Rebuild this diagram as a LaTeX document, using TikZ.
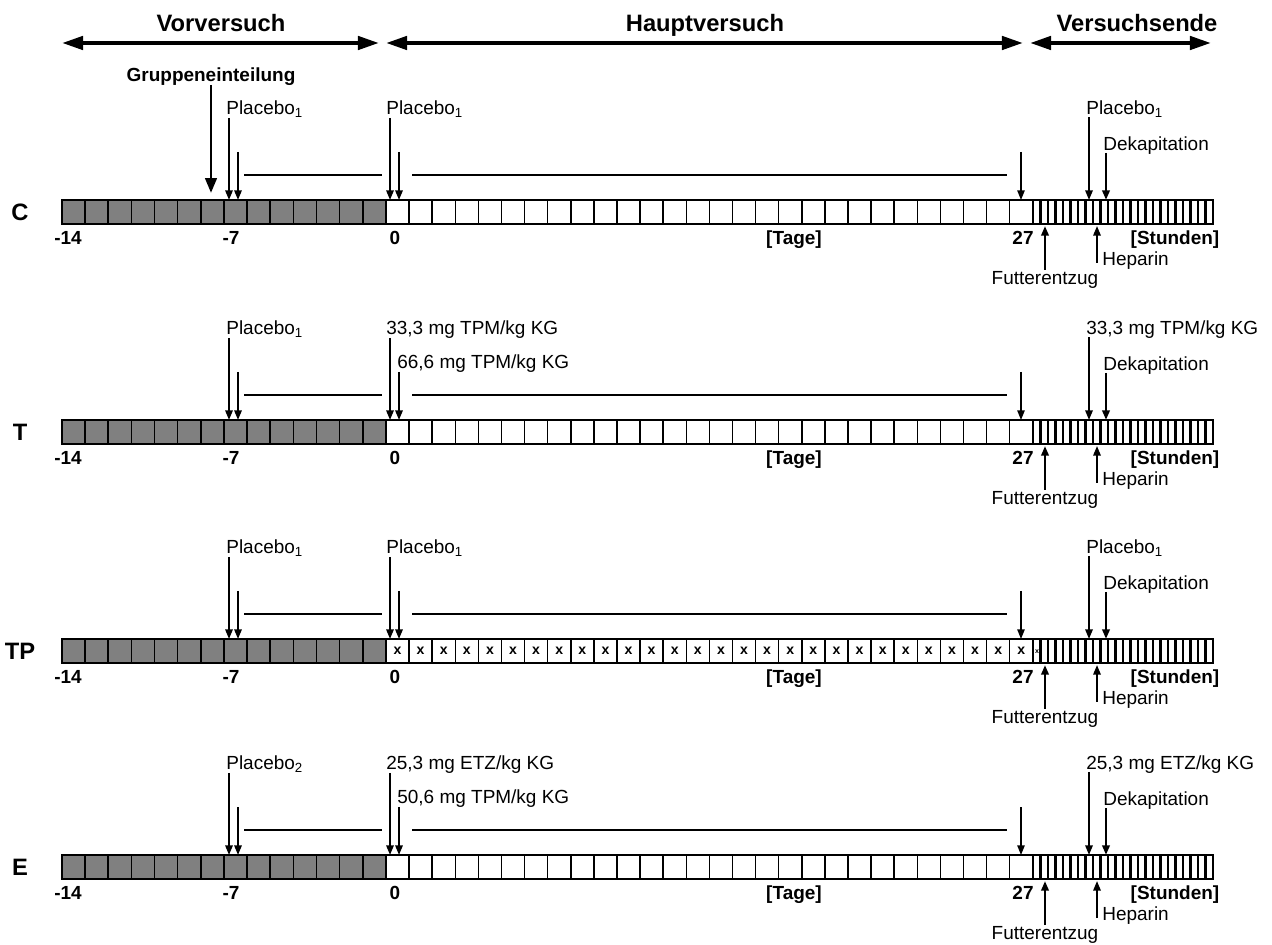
\documentclass[tikz,border=0pt]{standalone}
\usepackage{fontspec}
\setmainfont{Liberation Sans}
\usetikzlibrary{arrows.meta}

\tikzset{
  lbl/.style={inner sep=0pt, text height=7.7pt, text depth=0pt, font=\fontsize{10.8}{12}\selectfont},
  lblb/.style={lbl, font=\fontsize{10.8}{12}\selectfont\bfseries},
  titel/.style={inner sep=0pt, text height=9.7pt, text depth=0pt, font=\fontsize{13.5}{15}\selectfont\bfseries},
  kreuz/.style={inner sep=0pt, font=\fontsize{8}{9}\selectfont\bfseries},
  phase/.style={line width=2.3pt, {Triangle[length=12pt,width=7.5pt]}-{Triangle[length=12pt,width=7.5pt]}},
  pfeil/.style={line width=1.1pt, -{Triangle[length=5.5pt,width=4.2pt]}},
  gpfeil/.style={line width=1.7pt, -{Triangle[length=8.5pt,width=6.5pt]}},
  linie/.style={line width=1.1pt},
  vorbox/.style={draw, line width=0.9pt, fill=gray},
  tagbox/.style={draw, line width=0.9pt, fill=white},
  stdbox/.style={draw, line width=1.4pt, fill=white},
}

% #1 Name, #2 Versatz, #3 Gruppe, #4 Dosis Tag -7, #5 Dosis Tag 0, #6 Dosis Ende
\newcommand{\zeitachse}[6]{%
\begin{scope}[shift={(0,#2)}]
\foreach \i in {0,...,13} \draw[vorbox] ({62+\i*23.14},200) rectangle ++(23.14,24);
\foreach \i in {0,...,27} \draw[tagbox] ({386+\i*23.1},200) rectangle ++(23.1,24);
\foreach \i in {0,...,23} \draw[stdbox] ({1033+\i*7.5},200) rectangle ++(7.5,24);
\node[titel] (#1-name) at (20,212) {#3};
\node[lblb] (#1-m14) at (68,238) {-14};
\node[lblb] (#1-m7) at (231,238) {-7};
\node[lblb] (#1-null) at (395,238) {0};
\node[lblb] (#1-tage) at (794,238) {[Tage]};
\node[lblb] (#1-d27) at (1023,238) {27};
\node[lblb] (#1-std) at (1175,238) {[Stunden]};
\node[lbl, anchor=west] (#1-dosis1) at (226,108) {#4};
\node[lbl, anchor=west] (#1-dosis2) at (386,108) {#5};
\node[lbl, anchor=west] (#1-dosis3) at (1086,108) {#6};
\node[lbl, anchor=west] (#1-deka) at (1103,144) {Dekapitation};
\node[lbl] (#1-futter) at (1045,278) {Futterentzug};
\node[lbl, anchor=west] (#1-hep) at (1102,259) {Heparin};
\coordinate (#1-oben) at (62,200);
\coordinate (#1-unten) at (62,226);
\coordinate (#1-p1) at (229,118);
\coordinate (#1-p2) at (238,152);
\coordinate (#1-p3) at (390,118);
\coordinate (#1-p4) at (399,152);
\coordinate (#1-p5) at (1021,152);
\coordinate (#1-p6) at (1089,117);
\coordinate (#1-p7) at (1106,153);
\coordinate (#1-f) at (1045,270);
\coordinate (#1-h) at (1097,263);
\foreach \p in {p1,p2,p3,p4,p6} \draw[pfeil] (#1-\p) -- (#1-\p |- #1-oben);
\draw[pfeil, line width=0.8pt] (#1-p5) -- (#1-p5 |- #1-oben);
\draw[pfeil, line width=1.5pt] (#1-p7) -- (#1-p7 |- #1-oben);
\draw[pfeil, line width=1.4pt] (#1-f) -- (#1-f |- #1-unten);
\draw[pfeil] (#1-h) -- (#1-h |- #1-unten);
\coordinate (#1-l1) at (244,175);
\coordinate (#1-l2) at (382,175);
\coordinate (#1-l3) at (412,175);
\coordinate (#1-l4) at (1007,175);
\draw[linie] (#1-l1) -- (#1-l2);
\draw[linie] (#1-l3) -- (#1-l4);
\end{scope}}

\begin{document}
\begin{tikzpicture}[x=0.02cm, y=-0.02cm]
\useasboundingbox (0,0) rectangle (1272,945);

% Phasen
\node[titel] (vor) at (221,23) {Vorversuch};
\node[titel] (haupt) at (705,23) {Hauptversuch};
\node[titel] (ende) at (1137,23) {Versuchsende};
\coordinate (vor-l) at (62,43);
\coordinate (vor-r) at (379,43);
\coordinate (haupt-l) at (386,43);
\coordinate (haupt-r) at (1023,43);
\coordinate (ende-l) at (1030,43);
\coordinate (ende-r) at (1211,43);
\draw[phase] (vor-l) -- (vor-r);
\draw[phase] (haupt-l) -- (haupt-r);
\draw[phase] (ende-l) -- (ende-r);

% Gruppen
\zeitachse{c}{0}{C}{Placebo\textsubscript{1}}{Placebo\textsubscript{1}}{Placebo\textsubscript{1}}
\zeitachse{t}{220}{T}{Placebo\textsubscript{1}}{33,3 mg TPM/kg KG}{33,3 mg TPM/kg KG}
\zeitachse{tp}{439}{TP}{Placebo\textsubscript{1}}{Placebo\textsubscript{1}}{Placebo\textsubscript{1}}
\zeitachse{e}{655}{E}{Placebo\textsubscript{2}}{25,3 mg ETZ/kg KG}{25,3 mg ETZ/kg KG}

% zweite Dosis
\node[lbl, anchor=west] (t-dosis4) at (397,362) {66,6 mg TPM/kg KG};
\node[lbl, anchor=west] (e-dosis4) at (397,797) {50,6 mg TPM/kg KG};

% Gruppeneinteilung
\node[lblb] (gruppe) at (211,75) {Gruppeneinteilung};
\coordinate (gruppe-a) at (211,85);
\coordinate (gruppe-b) at (211,193);
\draw[gpfeil] (gruppe-a) -- (gruppe-b);

% TP Kreuze
\foreach \i in {0,...,27} \node[kreuz] (tp-x\i) at ({397.55+\i*23.1},651) {x};
\node[kreuz, font=\fontsize{4}{4}\selectfont\bfseries] (tp-xs) at (1037,652) {x};
\end{tikzpicture}
\end{document}
